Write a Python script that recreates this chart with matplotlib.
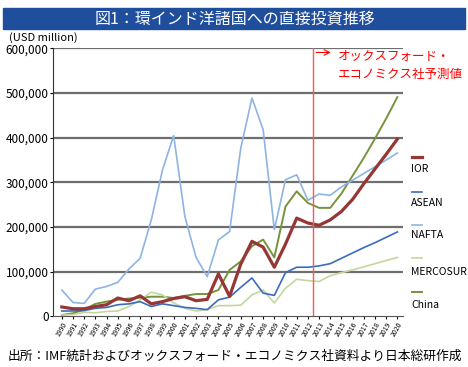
import numpy as np
import matplotlib
matplotlib.use("Agg")
import matplotlib.pyplot as plt

plt.rcParams['font.family'] = ['Noto Sans CJK JP', 'DejaVu Sans']

# data (USD million)
years = list(range(1990, 2021))
ior = [21, 17, 17, 22, 26, 41, 35, 46, 28, 33, 40, 44, 35, 38, 95, 45, 117, 168, 155, 110,
       162, 220, 209, 204, 216, 235, 262, 297, 330, 363, 397]
asean = [12, 12, 13, 18, 20, 26, 28, 33, 22, 28, 24, 20, 18, 15, 37, 43, 65, 86, 52, 47,
         98, 110, 110, 113, 118, 130, 142, 154, 165, 177, 189]
nafta = [59, 31, 29, 61, 67, 76, 106, 130, 216, 328, 405, 224, 132, 89, 171, 190, 377, 489,
         418, 194, 306, 317, 260, 274, 271, 290, 305, 320, 335, 350, 366]
mercosur = [3, 4, 9, 8, 11, 12, 22, 37, 54, 48, 30, 18, 12, 15, 24, 24, 25, 48, 59, 30,
            63, 83, 80, 78, 91, 98, 104, 111, 118, 125, 132]
china = [3, 7, 15, 28, 33, 37, 40, 42, 44, 44, 41, 46, 50, 50, 59, 104, 123, 157, 172, 132,
         246, 280, 254, 243, 243, 275, 315, 355, 398, 443, 491]

series = [("IOR", ior, "#953735", 2.3),
          ("ASEAN", asean, "#3a6bbf", 1.2),
          ("NAFTA", nafta, "#8db4e2", 1.2),
          ("MERCOSUR", mercosur, "#c4d79b", 1.2),
          ("China", china, "#77933c", 1.4)]

fig = plt.figure(figsize=(4.68, 3.67), dpi=100)
ax = fig.add_axes([0.113, 0.138, 0.748, 0.730])

x = np.arange(len(years))
for name, vals, col, lw in series[::-1]:
    ax.plot(x, np.array(vals) * 1000, color=col, lw=lw, label=name)

ax.set_ylim(0, 600000)
ax.set_xlim(-0.8, 30.5)
ax.set_yticks(np.arange(0, 600001, 100000))
ax.set_yticklabels([f"{v:,}" for v in range(0, 600001, 100000)], fontsize=8.5)
for v in range(100000, 600001, 100000):
    ax.axhline(v, color="#6e6e6e", lw=1.6, zorder=0)
ax.set_xticks(x)
ax.set_xticklabels([str(y) for y in years], rotation=60, fontsize=5, ha="right",
                   rotation_mode="anchor", style="italic")
ax.tick_params(axis="x", length=2, pad=1)
ax.tick_params(axis="y", length=2, pad=1)
for s in ["top", "right"]:
    ax.spines[s].set_visible(False)
ax.spines["left"].set_color("#333333")
ax.spines["bottom"].set_color("#555555")

# forecast marker
ax.axvline(22.5, color="#ff5555", lw=1)
ax.annotate("", xy=(24.3, 591000), xytext=(22.5, 591000),
            arrowprops=dict(arrowstyle="->", color="red", lw=0.8))
ax.text(24.7, 581000, "オックスフォード・", color="red", fontsize=9, va="center", ha="left")
ax.text(24.7, 541000, "エコノミクス社予測値", color="red", fontsize=9, va="center", ha="left")

# legend (line sample above each label)
line_y = [0.572, 0.477, 0.387, 0.297, 0.204]
text_y = [0.540, 0.447, 0.360, 0.259, 0.169]
for (name, vals, col, lw), ly, ty in zip(series, line_y, text_y):
    fig.add_artist(plt.Line2D([0.88, 0.902], [ly, ly], color=col, lw=lw,
                              transform=fig.transFigure))
    fig.text(0.878, ty, name, fontsize=7.5, va="center", ha="left")

# title band
fig.patches.append(plt.Rectangle((0.006, 0.921), 0.988, 0.057, transform=fig.transFigure,
                                 color="#1f4e9c", zorder=0))
fig.text(0.502, 0.949, "図1：環インド洋諸国への直接投資推移", color="white", fontsize=11.5,
         ha="center", va="center")
fig.text(0.02, 0.899, "(USD million)", fontsize=8, va="center")
fig.text(0.017, 0.03, "出所：IMF統計およびオックスフォード・エコノミクス社資料より日本総研作成",
         fontsize=9.2, va="center")

fig.savefig("out.png", dpi=100)
